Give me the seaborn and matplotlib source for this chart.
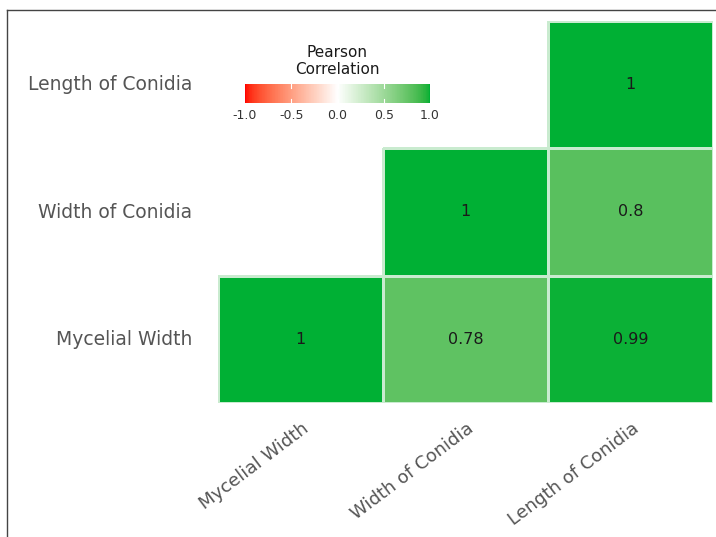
import numpy as np
import pandas as pd
import matplotlib
matplotlib.use("Agg")
import matplotlib.pyplot as plt
import matplotlib.transforms as mtransforms
from matplotlib.colors import ListedColormap, to_rgba
from matplotlib.lines import Line2D
import seaborn as sns

# Trait correlations (Pearson)
traits = ["Mycelial Width", "Width of Conidia", "Length of Conidia"]
r_mw_wc = 0.78
r_mw_lc = 0.99
r_wc_lc = 0.80
cbar_ticks = [-1.0, -0.5, 0.0, 0.5, 1.0]
cbar_ticklabels = ["-1.0", "-0.5", "0.0", "0.5", "1.0"]

LOW, MID, HIGH = "#FF0000", "#FFFFFF", "#00B034"


# --- diverging palette interpolated in CIE Lab space ---
def _srgb_to_lab(rgb):
    rgb = np.asarray(rgb, float)
    lin = np.where(rgb <= 0.04045, rgb / 12.92, ((rgb + 0.055) / 1.055) ** 2.4)
    m = np.array([[0.4124564, 0.3575761, 0.1804375],
                  [0.2126729, 0.7151522, 0.0721750],
                  [0.0193339, 0.1191920, 0.9503041]])
    xyz = lin @ m.T / np.array([0.95047, 1.0, 1.08883])
    f = np.where(xyz > 0.008856, np.cbrt(xyz), 7.787 * xyz + 16 / 116)
    return np.stack([116 * f[..., 1] - 16,
                     500 * (f[..., 0] - f[..., 1]),
                     200 * (f[..., 1] - f[..., 2])], axis=-1)


def _lab_to_srgb(lab):
    lab = np.asarray(lab, float)
    fy = (lab[..., 0] + 16) / 116
    fx = fy + lab[..., 1] / 500
    fz = fy - lab[..., 2] / 200
    f = np.stack([fx, fy, fz], axis=-1)
    xyz = np.where(f ** 3 > 0.008856, f ** 3, (f - 16 / 116) / 7.787)
    xyz = xyz * np.array([0.95047, 1.0, 1.08883])
    m = np.array([[3.2404542, -1.5371385, -0.4985314],
                  [-0.9692660, 1.8760108, 0.0415560],
                  [0.0556434, -0.2040259, 1.0572252]])
    lin = np.clip(xyz @ m.T, 0, 1)
    rgb = np.where(lin <= 0.0031308, 12.92 * lin, 1.055 * lin ** (1 / 2.4) - 0.055)
    return np.clip(rgb, 0, 1)


def _hex(c):
    c = c.lstrip("#")
    return np.array([int(c[i:i + 2], 16) / 255 for i in (0, 2, 4)])


lab_lo, lab_mid, lab_hi = (_srgb_to_lab(_hex(c)) for c in (LOW, MID, HIGH))
t = np.linspace(0, 1, 256)[:, None]
half = np.where(t < 0.5,
                lab_lo + (lab_mid - lab_lo) * (t / 0.5),
                lab_mid + (lab_hi - lab_mid) * ((t - 0.5) / 0.5))
cmap = ListedColormap(_lab_to_srgb(half), name="pearson_div")

# --- correlation matrix, rows listed top to bottom ---
rows = traits[::-1]
cols = traits
corr = pd.DataFrame(np.eye(3), index=traits, columns=traits)
corr.loc["Mycelial Width", "Width of Conidia"] = corr.loc["Width of Conidia", "Mycelial Width"] = r_mw_wc
corr.loc["Mycelial Width", "Length of Conidia"] = corr.loc["Length of Conidia", "Mycelial Width"] = r_mw_lc
corr.loc["Width of Conidia", "Length of Conidia"] = corr.loc["Length of Conidia", "Width of Conidia"] = r_wc_lc
mat = corr.loc[rows, cols]
ri = np.array([traits.index(r) for r in rows])[:, None]
ci = np.array([traits.index(c) for c in cols])[None, :]
mask = ci < ri  # keep only one triangle
annot = mat.map(lambda v: f"{v:.2f}".rstrip("0").rstrip("."))

plt.rcParams["font.family"] = ["DejaVu Sans"]
fig = plt.figure(figsize=(7.16, 5.37), dpi=100)

ax = fig.add_axes([218 / 716, 1 - 403 / 537, 495 / 716, 382 / 537])
cax = fig.add_axes([245 / 716, 1 - 103 / 537, 185 / 716, 19 / 537])

sns.heatmap(mat, mask=mask, cmap=cmap, vmin=-1, vmax=1,
            annot=annot, fmt="", annot_kws={"size": 11.5, "color": "#1a1a1a"},
            linewidths=0.8, linecolor="#c9ebcf", ax=ax,
            cbar=True, cbar_ax=cax, cbar_kws={"orientation": "horizontal"})

# no cell borders on the hidden half
mesh = ax.collections[0]
edge = np.array([to_rgba("#c9ebcf")] * mask.size)
edge[mask.ravel(), 3] = 0.0
mesh.set_edgecolors(edge)

ax.set_xlabel("")
ax.set_ylabel("")
ax.tick_params(axis="both", length=0)
ax.tick_params(axis="y", pad=18.5)
ax.tick_params(axis="x", pad=12)
ax.set_yticklabels(rows, rotation=0, color="#555555", fontsize=13.5)
ax.set_xticklabels(cols, rotation=37, ha="right", va="top",
                   rotation_mode="anchor", color="#555555", fontsize=13)
shift = mtransforms.ScaledTranslation(1 / 100, 0, fig.dpi_scale_trans)
for lab in ax.get_xticklabels():
    lab.set_transform(lab.get_transform() + shift)
for s in ax.spines.values():
    s.set_visible(False)

# colour bar legend
cb = ax.collections[0].colorbar
cb.outline.set_visible(False)
for s in cax.spines.values():
    s.set_visible(False)
cb.set_ticks(cbar_ticks)
cb.set_ticklabels(cbar_ticklabels)
cax.tick_params(axis="x", length=0, labelsize=9, colors="#333333", pad=4)
cax.tick_params(axis="y", left=False, right=False, labelleft=False, labelright=False)
for tk in cbar_ticks[1:-1]:
    cax.axvline(tk, ymin=0, ymax=0.2, color="white", lw=0.8)
    cax.axvline(tk, ymin=0.8, ymax=1, color="white", lw=0.8)
fig.text(337.5 / 716, 1 - 61 / 537, "Pearson\nCorrelation", ha="center",
         va="center", fontsize=11, color="#1a1a1a", linespacing=1.2)

# outer frame edges
fig.add_artist(Line2D([7 / 716, 7 / 716], [0, 1 - 10 / 537],
                      transform=fig.transFigure, color="#444444", lw=1))
fig.add_artist(Line2D([7 / 716, 1], [1 - 10 / 537, 1 - 10 / 537],
                      transform=fig.transFigure, color="#444444", lw=1))

fig.savefig("out.png", dpi=100)
